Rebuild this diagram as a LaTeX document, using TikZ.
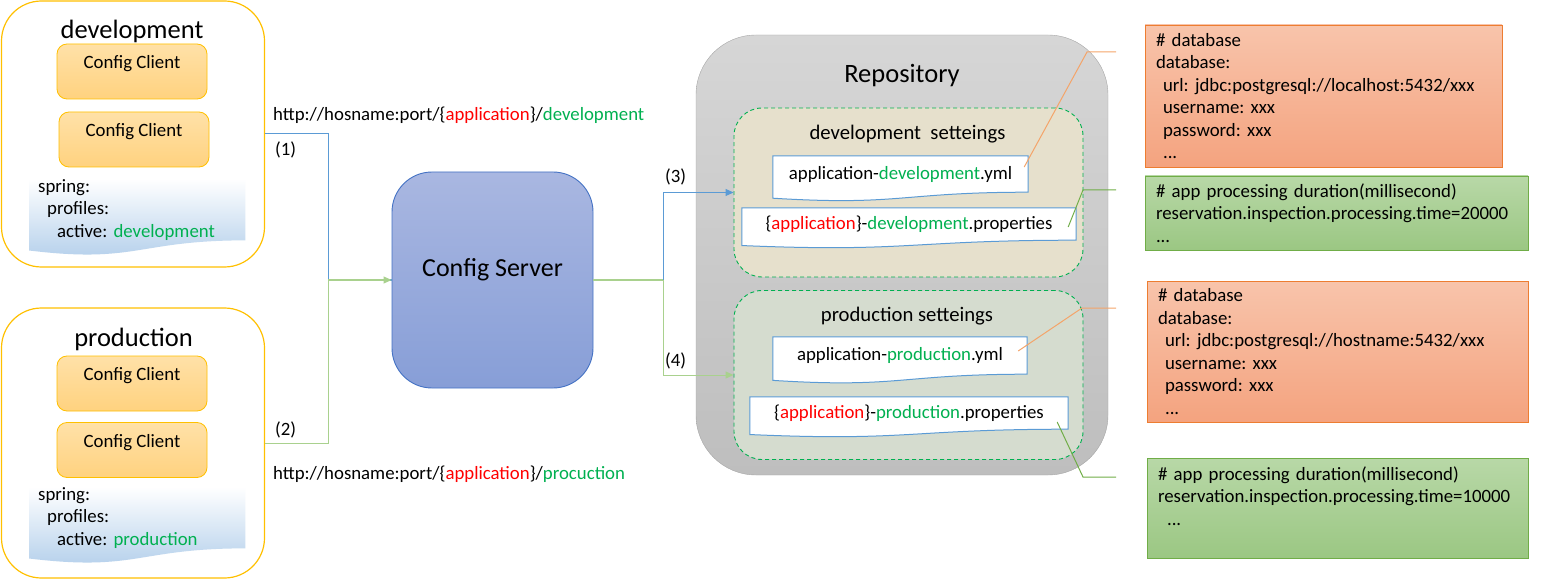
\documentclass[tikz,border=0pt]{standalone}
\usepackage{fontspec}
\setmainfont{Carlito}
\usetikzlibrary{arrows.meta,calc}
\definecolor{panelyellow}{HTML}{FFC000}
\definecolor{clienttop}{HTML}{FFE1A8}
\definecolor{clientbot}{HTML}{FFD27F}
\definecolor{docblue}{HTML}{B0CDEA}
\definecolor{servertop}{HTML}{A9B7E1}
\definecolor{serverbot}{HTML}{879ED7}
\definecolor{serverline}{HTML}{4472C4}
\definecolor{repotop}{HTML}{D6D6D6}
\definecolor{repobot}{HTML}{BEBEBE}
\definecolor{repoline}{HTML}{A6A6A6}
\definecolor{devfill}{HTML}{E6E0CC}
\definecolor{prodfill}{HTML}{D5DCCF}
\definecolor{dashgreen}{HTML}{00B050}
\definecolor{okgreen}{HTML}{00B050}
\definecolor{appred}{HTML}{FF0000}
\definecolor{fileline}{HTML}{5B9BD5}
\definecolor{flowblue}{HTML}{5B9BD5}
\definecolor{flowgreen}{HTML}{A9D18E}
\definecolor{leaderorange}{HTML}{F4A469}
\definecolor{leadergreen}{HTML}{70AD47}
\definecolor{dbtop}{HTML}{F8C4AB}
\definecolor{dbbot}{HTML}{F4A37F}
\definecolor{dbline}{HTML}{ED7D31}
\definecolor{proptop}{HTML}{B8D8A7}
\definecolor{propbot}{HTML}{9BC783}
\definecolor{propline}{HTML}{70AD47}
\pgfdeclarelayer{back}
\pgfdeclarelayer{docs}
\pgfsetlayers{back,docs,main}

\begin{document}
\frenchspacing
\begin{tikzpicture}[x=1pt, y=-1pt,
  every node/.style={font=\fontsize{18.8}{22.5}\selectfont, inner sep=0pt},
  panel/.style={draw=panelyellow, line width=1.2pt, fill=white, rounded corners=40pt, minimum width=263pt},
  client/.style={draw=panelyellow, line width=0.8pt, rounded corners=10pt, top color=clienttop, bottom color=clientbot, minimum width=150pt, minimum height=55pt, text height=13pt, text depth=19pt},
  bigtitle/.style={font=\fontsize{26.5}{30}\selectfont},
  settitle/.style={font=\fontsize{20.7}{25}\selectfont},
  envdoc/.style={anchor=north west, text width=198pt, inner xsep=9pt, inner ysep=0pt, align=left},
  settings/.style={draw=dashgreen, dash pattern=on 4pt off 3pt, line width=0.9pt, rounded corners=28pt, minimum width=349pt, minimum height=169pt},
  dbbox/.style={draw=dbline, line width=0.9pt, top color=dbtop, bottom color=dbbot, align=left, inner xsep=11pt},
  propbox/.style={draw=propline, line width=0.9pt, top color=proptop, bottom color=propbot, align=left, inner xsep=11pt},
  flow/.style={line width=1pt},
  tip/.style={-{Triangle[length=8pt,width=7pt]}},
  leader/.style={line width=1pt}]
\useasboundingbox (0,0) rectangle (1548,580);

\begin{pgfonlayer}{back}
\node[panel, minimum height=266pt] (devpanel) at (133,134) {};
\node[panel, minimum height=270pt] (prodpanel) at (133,443) {};
\node[draw=repoline, top color=repotop, bottom color=repobot, rounded corners=60pt, minimum width=412pt, minimum height=440pt] (repo) at (902,255) {};
\node[settings, fill=devfill] (devset) at (908.5,192.5) {};
\node[settings, fill=prodfill] (prodset) at (908.5,375) {};
\end{pgfonlayer}

\node[bigtitle] (devtitle) at (132,31) {development};
\node[client] (devc1) at (132,71.5) {Config Client};
\node[client] (devc2) at (134,139.5) {Config Client};
\node[envdoc] (devyml) at (29,179) {spring:\\\hspace*{9pt}profiles:\\\hspace*{19pt}active: \textcolor{okgreen}{development}};

\node[bigtitle] (prodtitle) at (133.5,339) {production};
\node[client] (prodc1) at (132,383.5) {Config Client};
\node[client] (prodc2) at (132,450) {Config Client};
\node[envdoc] (prodyml) at (29,487) {spring:\\\hspace*{9pt}profiles:\\\hspace*{19pt}active: \textcolor{okgreen}{production}};

\node[draw=serverline, line width=0.9pt, top color=servertop, bottom color=serverbot, rounded corners=40pt, minimum width=201pt, minimum height=216pt, font=\fontsize{26}{30}\selectfont, text height=19pt, text depth=26pt] (server) at (492.5,280) {Config Server};

\node[bigtitle] (repotitle) at (902,76) {Repository};
\node[settitle] (devsettitle) at (907.5,134) {development\ \ setteings};
\node[settitle] (prodsettitle) at (907,316) {production setteings};
\node[minimum width=255pt, minimum height=36pt] (ymldev) at (900.5,174) {application-\textcolor{okgreen}{development}.yml};
\node[minimum width=334pt, minimum height=32pt] (propdev) at (909,224) {\{\textcolor{appred}{application}\}-\textcolor{okgreen}{development}.properties};
\node[minimum width=254pt, minimum height=37pt] (ymlprod) at (900,355.5) {application-\textcolor{okgreen}{production}.yml};
\node[minimum width=318pt, minimum height=32pt] (propprod) at (909,413) {\{\textcolor{appred}{application}\}-\textcolor{okgreen}{production}.properties};

\begin{pgfonlayer}{docs}
\foreach \d in {devyml,prodyml}
  \shade[top color=white, bottom color=docblue] let \p1=(\d.north west), \p2=(\d.south east), \n1={\y1-\y2} in
    (\p1) -- (\x2,\y1) -- (\p2) .. controls ({(\x1+\x2)/2},\y2) and ({(\x1+\x2)/2},{\y2-0.38*\n1}) .. (\x1,{\y2-0.165*\n1}) -- cycle;
\foreach \d in {ymldev,propdev,ymlprod,propprod}
  \draw[fileline, fill=white, line width=1pt] let \p1=(\d.north west), \p2=(\d.south east), \n1={\y1-\y2} in
    (\p1) -- (\x2,\y1) -- (\p2) .. controls ({(\x1+\x2)/2},\y2) and ({(\x1+\x2)/2},{\y2-0.38*\n1}) .. (\x1,{\y2-0.165*\n1}) -- cycle;
\end{pgfonlayer}

\node[anchor=west] (url1) at (273,115) {http://hosname:port/\{\textcolor{appred}{application}\}/\textcolor{okgreen}{development}};
\node[anchor=west] (url2) at (273,474) {http://hosname:port/\{\textcolor{appred}{application}\}/\textcolor{okgreen}{procuction}};
\node[anchor=west] (lbl1) at (275,150) {(1)};
\node[anchor=west] (lbl2) at (275,430) {(2)};
\node[anchor=west] (lbl3) at (665,177) {(3)};
\node[anchor=west] (lbl4) at (665,361) {(4)};

\coordinate (jl) at (328,280);
\coordinate (jr) at (663,280);
\draw[flow, flowblue] (devpanel.east) -| (jl) -- (server.west);
\draw[flow, flowgreen, tip] (prodpanel.east) -| (jl) -- (server.west);
\draw[flow, flowgreen, tip] (server.east) -- (jr) |- (prodset.west);
\draw[flow, flowblue, tip] (jr) |- (devset.west);

\node[dbbox, minimum width=357pt, minimum height=142pt, text width=335pt] (devdb) at (1323.5,96) {\#~database\\database:\\\hspace*{7pt}url: jdbc:postgresql://localhost:5432/xxx\\\hspace*{7pt}username: xxx\\\hspace*{7pt}password: xxx\\\hspace*{7pt}...};
\node[propbox, minimum width=383pt, minimum height=74pt, text width=361pt] (devprop) at (1336.5,213) {\#~app processing duration(millisecond)\\reservation.inspection.processing.time=20000\\...};
\node[dbbox, minimum width=381pt, minimum height=141pt, text width=359pt] (proddb) at (1337.5,351.5) {\#~database\\database:\\\hspace*{7pt}url: jdbc:postgresql://hostname:5432/xxx\\\hspace*{7pt}username: xxx\\\hspace*{7pt}password: xxx\\\hspace*{7pt}...};
\node[propbox, minimum width=381pt, minimum height=100pt, text width=359pt, text depth=69.5pt] (prodprop) at (1337.5,508) {\#~app processing duration(millisecond)\\reservation.inspection.processing.time=10000\\\hspace*{9pt}...};

\coordinate (lk1) at (1087,52);
\coordinate (ld1) at (1116,52);
\coordinate (lk2) at (1083,190);
\coordinate (ld2) at (1116,190);
\coordinate (lk3) at (1082,308);
\coordinate (ld3) at (1116,308);
\coordinate (lk4) at (1083,477);
\coordinate (ld4) at (1116,477);
\draw[leader, leaderorange] ([shift={(-4,-7)}]ymldev.east) -- (lk1) -- (ld1);
\draw[leader, leadergreen] ([shift={(-8,3)}]propdev.east) -- (lk2) -- (ld2);
\draw[leader, leaderorange] ([shift={(-9,-4.5)}]ymlprod.east) -- (lk3) -- (ld3);
\draw[leader, leadergreen] ([shift={(-11,9)}]propprod.east) -- (lk4) -- (ld4);
\end{tikzpicture}
\end{document}
